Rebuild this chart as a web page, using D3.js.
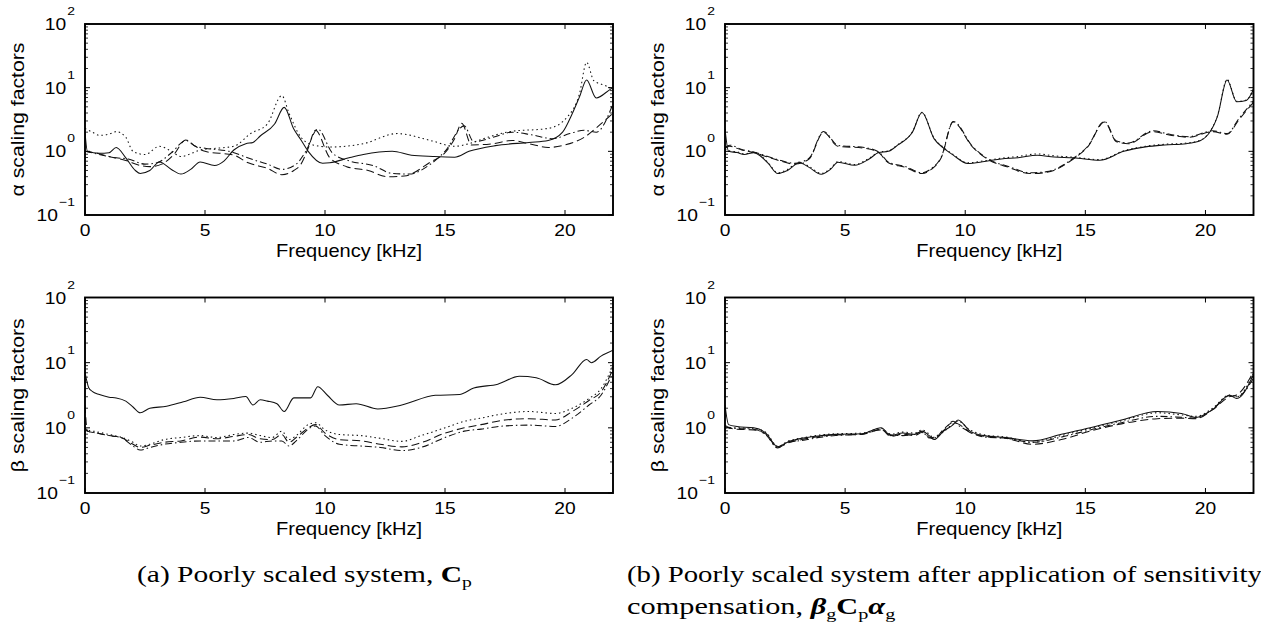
<!DOCTYPE html>
<html><head><meta charset="utf-8">
<script src="https://cdn.jsdelivr.net/npm/d3@7"></script>
<style>body{margin:0;background:#fff} svg{display:block}</style>
</head><body>
<svg id="c" width="1261" height="633"></svg>
<script>
// ---------- data ----------
const xTickValues = [0, 5, 10, 15, 20];
const yTickExponents = [-1, 0, 1, 2];
const xTitle = "Frequency [kHz]";
const alphaLabel = "α scaling factors";
const betaLabel = "β scaling factors";

// (a) alpha
const aAlphaSolidF = [0,0.1,0.6,1.0,1.3,1.7,2.1,2.3,2.7,3.1,3.6,4.0,4.4,4.8,5.4,5.8,6.2,6.7,7.0,7.3,7.9,8.3,8.7,9.0,9.3,9.9,10.2,11.0,11.6,12.8,13.6,14.5,15.4,16.0,17.1,18.5,19.3,19.9,20.3,20.6,20.9,21.3,21.9,22];
const aAlphaSolidV = [2.0,1.0,0.93,0.95,1.15,0.79,0.50,0.45,0.50,0.68,0.52,0.44,0.52,0.68,0.60,0.71,1.05,1.32,1.38,1.74,2.69,4.9,2.24,1.51,1.0,0.65,0.66,0.79,0.89,1.0,0.87,0.83,0.81,1.0,1.23,1.38,1.48,2.0,3.89,7.1,13.2,6.9,9.5,10];
const aAlphaDottedF = [0,0.3,0.6,1.0,1.3,1.7,2.0,2.5,3.1,3.6,4.0,4.5,4.8,5.5,6.2,6.9,7.6,8.2,8.5,9.0,9.5,10.2,11.6,13.0,14.4,15.4,16.0,16.6,17.7,19.3,20.1,20.6,20.9,21.2,21.7,22];
const aAlphaDottedV = [2.29,2.0,1.78,1.86,2.04,1.66,1.0,0.89,1.2,1.0,0.83,0.95,1.05,1.12,1.2,1.9,2.69,7.5,3.98,1.66,1.26,1.17,1.32,1.9,1.48,1.2,1.32,1.58,2.04,2.29,3.47,7.9,25,12.9,10.7,9.3];
const aAlphaDashedF = [0,0.5,1.0,1.7,2.3,2.7,3.2,3.7,4.2,4.6,5.0,6.2,6.8,7.6,8.2,8.7,9.0,9.3,9.6,10.2,10.9,11.8,12.6,13.3,14.4,15.0,15.4,15.7,16.1,17.0,17.8,18.5,19.3,20.0,20.8,21.4,22];
const aAlphaDashedV = [1.0,0.93,0.83,0.72,0.60,0.575,0.63,0.89,1.51,1.2,1.0,0.87,0.66,0.54,0.43,0.5,0.63,1.12,2.14,0.79,0.575,0.5,0.4,0.41,0.68,0.95,1.58,2.75,1.26,1.32,1.48,1.32,1.15,1.26,1.66,2.51,3.98];
const aAlphaDashDotF = [0,0.5,1.3,1.8,2.5,3.0,3.6,4.2,4.6,5.0,6.0,7.0,7.6,8.2,8.8,9.2,9.7,10.3,11.0,12.0,12.8,13.5,14.4,15.0,15.8,16.2,17.0,17.8,18.6,19.5,20.2,20.8,21.3,22];
const aAlphaDashDotV = [1.0,0.91,0.79,0.76,0.63,0.66,0.95,1.48,1.2,1.12,1.0,0.74,0.63,0.52,0.63,1.0,2.24,0.95,0.71,0.60,0.45,0.44,0.63,1.0,2.51,1.41,1.66,2.0,1.82,1.58,1.9,2.14,2.0,5.6];

// (a) beta
const aBetaSolidF = [0,0.15,0.3,0.6,1.0,1.3,1.7,2.0,2.3,2.7,3.4,4.1,4.8,5.5,6.2,6.7,7.0,7.3,7.6,8.0,8.3,8.7,9.4,9.7,10.1,10.6,11.3,12.2,13.2,14.6,15.6,16.2,17.2,18.1,18.8,19.6,20.3,20.9,21.1,21.5,22];
const aBetaSolidV = [7.1,4.17,3.63,3.24,2.95,2.88,2.57,2.09,1.70,2.0,2.14,2.51,2.95,2.69,2.82,3.02,2.24,2.69,2.57,2.34,1.78,2.88,2.88,4.27,3.16,2.24,2.34,1.95,2.24,3.16,3.24,4.07,4.68,6.17,5.89,4.57,6.61,11.2,10.0,12.6,15.5];
const aBetaOtherF = [0,0.1,0.5,1.0,1.5,2.0,2.3,2.7,3.3,4.0,4.8,5.5,6.2,6.8,7.3,7.8,8.2,8.5,8.8,9.3,9.6,10.0,10.6,11.5,12.3,13.2,14.0,15.0,15.8,16.5,17.5,18.5,19.6,20.3,21.0,21.5,22];
const aBetaDashedV = [2.24,0.89,0.83,0.76,0.71,0.56,0.50,0.54,0.60,0.63,0.72,0.68,0.74,0.79,0.68,0.66,0.79,0.60,0.71,1.0,1.12,0.83,0.66,0.63,0.56,0.51,0.59,0.83,1.0,1.12,1.32,1.38,1.32,1.78,2.63,3.55,7.94];
const aBetaDashDotV = [1.0,0.89,0.83,0.76,0.71,0.525,0.457,0.50,0.56,0.60,0.63,0.63,0.63,0.71,0.60,0.63,0.63,0.525,0.63,0.955,1.07,0.76,0.56,0.525,0.50,0.447,0.50,0.71,0.89,0.955,1.07,1.10,1.05,1.41,2.24,3.16,7.08];
const aBetaDottedV = [1.0,0.93,0.87,0.79,0.72,0.60,0.525,0.56,0.66,0.71,0.76,0.71,0.79,0.83,0.76,0.71,0.89,0.66,0.76,1.12,1.20,0.93,0.79,0.76,0.69,0.62,0.76,1.0,1.26,1.41,1.66,1.78,1.66,2.0,2.82,3.98,8.91];

// (b) alpha
const bAlphaSolidF = [0,0.15,0.5,0.8,1.2,1.5,1.8,2.2,2.6,3.1,3.5,4.0,4.4,4.7,5.4,6.0,6.4,6.8,7.2,7.8,8.2,8.7,9.1,9.5,10.1,10.8,11.5,12.2,13.0,13.7,14.5,15.6,16.6,17.5,18.3,19.2,19.8,20.1,20.5,20.9,21.3,21.7,22];
const bAlphaSolidV = [2.24,1.0,0.955,0.89,0.955,0.83,0.646,0.447,0.50,0.66,0.56,0.437,0.525,0.676,0.603,0.759,0.955,1.0,1.26,2.0,4.07,1.585,1.12,0.871,0.646,0.692,0.759,0.794,0.871,0.813,0.794,0.724,1.0,1.175,1.26,1.32,1.48,1.82,3.55,13.2,6.03,6.31,9.33];
const bAlphaDottedV = [1.1,1.02,0.98,0.91,0.97,0.85,0.66,0.46,0.52,0.68,0.58,0.45,0.54,0.69,0.62,0.78,0.97,1.02,1.28,2.02,4.1,1.62,1.15,0.89,0.66,0.71,0.78,0.83,0.91,0.85,0.81,0.74,1.02,1.2,1.29,1.35,1.5,1.85,3.6,13.5,6.1,6.4,9.5];
const bAlphaDashF = [0,0.2,0.7,1.2,1.7,2.2,2.9,3.5,4.1,4.7,5.8,6.4,6.8,7.5,8.2,8.6,9.0,9.5,10.3,11.0,11.8,12.7,13.4,14.5,15.1,15.8,16.3,16.8,17.8,18.6,19.3,20.3,20.9,21.4,22];
const bAlphaDashedV = [1.12,1.2,1.047,0.955,0.832,0.724,0.631,0.759,1.995,1.2,1.122,0.955,0.661,0.562,0.447,0.525,0.794,2.88,1.175,0.724,0.562,0.447,0.468,0.759,1.175,2.88,1.413,1.318,2.04,1.778,1.66,2.04,1.86,3.16,5.9];
const bAlphaDashDotV = [1.15,1.25,1.07,0.98,0.85,0.74,0.65,0.78,2.05,1.24,1.15,0.98,0.68,0.58,0.46,0.54,0.81,2.95,1.2,0.74,0.58,0.46,0.48,0.78,1.2,2.95,1.45,1.35,2.1,1.82,1.7,2.1,1.9,3.3,6.2];

// (b) beta
const bBetaF = [0,0.15,0.5,1.2,1.7,2.2,2.6,3.2,4.0,4.6,5.7,6.5,6.9,7.4,7.9,8.2,8.5,8.7,9.1,9.5,9.7,10.2,10.8,11.7,12.8,14.0,15.2,16.5,18.0,19.0,19.6,20.3,21.0,21.3,22];
const bBetaSolidV = [2.24,1.12,1.047,1.0,0.832,0.513,0.603,0.692,0.759,0.794,0.813,1.0,0.759,0.832,0.794,0.891,0.759,0.661,0.891,1.122,1.318,0.891,0.759,0.708,0.631,0.794,1.0,1.318,1.778,1.66,1.445,1.905,3.162,2.818,6.6];
const bBetaDashedV = [1.05,1.0,0.95,0.93,0.8,0.5,0.58,0.66,0.74,0.78,0.79,0.95,0.74,0.8,0.76,0.85,0.72,0.68,0.95,1.2,1.15,0.85,0.74,0.69,0.56,0.66,0.89,1.15,1.38,1.41,1.38,1.9,3.0,3.2,7.2];
const bBetaDashDotV = [1.1,1.02,0.98,0.95,0.78,0.49,0.6,0.64,0.72,0.76,0.8,0.93,0.78,0.76,0.81,0.87,0.7,0.72,0.91,1.26,1.1,0.87,0.72,0.69,0.6,0.72,0.93,1.2,1.5,1.45,1.41,1.95,3.1,3.0,5.8];
const bBetaDottedV = [1.0,0.98,1.0,0.98,0.85,0.52,0.62,0.7,0.78,0.81,0.83,0.98,0.8,0.86,0.83,0.93,0.8,0.7,0.87,1.15,1.26,0.93,0.78,0.72,0.6,0.76,0.98,1.28,1.7,1.58,1.5,2.0,3.2,3.0,6.9];

// ---------- drawing ----------
const svg = d3.select("#c");
const SANS = "'Liberation Sans', Arial, Helvetica, sans-serif";
const SERIF = "'Liberation Serif', 'Times New Roman', serif";
const DASH = {solid: null, dashed: "8,4", dashdot: "7,3,1.5,3", dotted: "1.5,3"};
const TICK_SX = 1.18;

// stretch a text element horizontally (in its own frame) so that its width equals target
function fitWidth(sel, target) {
  const w = sel.node().getBBox().width;
  return w > 0 ? target / w : 1;
}

const panels = [
  {id:"pa1", x0:85, x1:613, y0:24, y1:215, ylabel:alphaLabel, lx:23.5, series:[
    {f:aAlphaDottedF, v:aAlphaDottedV, s:"dotted"},
    {f:aAlphaDashDotF, v:aAlphaDashDotV, s:"dashdot"},
    {f:aAlphaDashedF, v:aAlphaDashedV, s:"dashed"},
    {f:aAlphaSolidF, v:aAlphaSolidV, s:"solid"}]},
  {id:"pa2", x0:85, x1:613, y0:297.5, y1:493, ylabel:betaLabel, lx:23.5, series:[
    {f:aBetaOtherF, v:aBetaDottedV, s:"dotted"},
    {f:aBetaOtherF, v:aBetaDashDotV, s:"dashdot"},
    {f:aBetaOtherF, v:aBetaDashedV, s:"dashed"},
    {f:aBetaSolidF, v:aBetaSolidV, s:"solid"}]},
  {id:"pb1", x0:725, x1:1253.5, y0:24, y1:215, ylabel:alphaLabel, lx:663.5, series:[
    {f:bAlphaSolidF, v:bAlphaDottedV, s:"dotted"},
    {f:bAlphaDashF, v:bAlphaDashDotV, s:"dashdot"},
    {f:bAlphaDashF, v:bAlphaDashedV, s:"dashed"},
    {f:bAlphaSolidF, v:bAlphaSolidV, s:"solid"}]},
  {id:"pb2", x0:725, x1:1253.5, y0:297.5, y1:493, ylabel:betaLabel, lx:663.5, series:[
    {f:bBetaF, v:bBetaDottedV, s:"dotted"},
    {f:bBetaF, v:bBetaDashDotV, s:"dashdot"},
    {f:bBetaF, v:bBetaDashedV, s:"dashed"},
    {f:bBetaF, v:bBetaSolidV, s:"solid"}]}
];

panels.forEach(p => {
  const x = d3.scaleLinear().domain([0, 22]).range([p.x0, p.x1]);
  const y = d3.scaleLog().domain([0.1, 100]).range([p.y1, p.y0]);
  const g = svg.append("g");

  g.append("clipPath").attr("id", "clip-" + p.id)
    .append("rect").attr("x", p.x0).attr("y", p.y0)
    .attr("width", p.x1 - p.x0).attr("height", p.y1 - p.y0);

  const line = d3.line().x(d => x(d[0])).y(d => y(d[1])).curve(d3.curveMonotoneX);
  const lg = g.append("g").attr("clip-path", "url(#clip-" + p.id + ")");
  p.series.forEach(s => {
    const pts = s.f.map((f, i) => [f, s.v[i]]);
    lg.append("path").attr("d", line(pts))
      .attr("fill", "none").attr("stroke", "#111").attr("stroke-width", 1.05)
      .attr("stroke-dasharray", DASH[s.s]);
  });

  // x ticks (inside, bottom and top) + labels
  xTickValues.forEach(t => {
    g.append("line").attr("x1", x(t)).attr("x2", x(t)).attr("y1", p.y1).attr("y2", p.y1 - 5)
      .attr("stroke", "#000").attr("stroke-width", 1);
    g.append("line").attr("x1", x(t)).attr("x2", x(t)).attr("y1", p.y0).attr("y2", p.y0 + 5)
      .attr("stroke", "#000").attr("stroke-width", 1);
    g.append("text").attr("transform", `translate(${x(t)},${p.y1 + 20.5}) scale(${TICK_SX},1)`)
      .attr("text-anchor", "middle").attr("font-family", SANS).attr("font-size", 16.3)
      .text(t);
  });

  // y ticks (log, major + minor, both sides) + labels
  yTickExponents.forEach(e => {
    const v = Math.pow(10, e);
    [[p.x0, 1], [p.x1, -1]].forEach(([bx, dir]) => {
      g.append("line").attr("x1", bx).attr("x2", bx + dir * 5).attr("y1", y(v)).attr("y2", y(v))
        .attr("stroke", "#000").attr("stroke-width", 1);
      if (e < 2) {
        for (let m = 2; m <= 9; m++) {
          g.append("line").attr("x1", bx).attr("x2", bx + dir * 3).attr("y1", y(m * v)).attr("y2", y(m * v))
            .attr("stroke", "#000").attr("stroke-width", 0.8);
        }
      }
    });
    const tx = g.append("text").attr("transform", `translate(${p.x0 - 10},${y(v) + 6}) scale(${TICK_SX},1)`)
      .attr("text-anchor", "end").attr("font-family", SANS).attr("font-size", 16.3);
    tx.append("tspan").text("10");
    tx.append("tspan").attr("dx", 1).attr("dy", -15).attr("font-size", 11.8)
      .text(e < 0 ? "\u2212" + Math.abs(e) : String(e));
  });

  // box
  g.append("rect").attr("x", p.x0).attr("y", p.y0).attr("width", p.x1 - p.x0).attr("height", p.y1 - p.y0)
    .attr("fill", "none").attr("stroke", "#000").attr("stroke-width", 1.9);

  // x title
  const cx = (p.x0 + p.x1) / 2, ty = p.y1 + 42;
  const xt = g.append("text").attr("text-anchor", "middle").attr("font-family", SANS).attr("font-size", 18)
    .attr("transform", `translate(${cx},${ty})`).text(xTitle);
  xt.attr("transform", `translate(${cx},${ty}) scale(${fitWidth(xt, 146)},1)`);

  // y label
  const cy = (p.y0 + p.y1) / 2;
  const yl = g.append("text").attr("text-anchor", "middle").attr("font-family", SANS).attr("font-size", 18)
    .attr("transform", `translate(${p.lx},${cy}) rotate(-90)`).text(p.ylabel);
  yl.attr("transform", `translate(${p.lx},${cy}) rotate(-90) scale(${fitWidth(yl, 154)},1)`);
});

// captions
function caption(x, y, width, build) {
  const t = svg.append("text").attr("font-family", SERIF).attr("font-size", 22.5)
    .attr("transform", `translate(${x},${y})`);
  build(t);
  t.attr("transform", `translate(${x},${y}) scale(${fitWidth(t, width)},1)`);
}
caption(137, 582, 335, t => {
  t.append("tspan").text("(a) Poorly scaled system, ");
  t.append("tspan").attr("font-weight", "bold").text("C");
  t.append("tspan").attr("dy", 5).attr("font-size", 15).text("p");
});
caption(627, 582, 636, t => {
  t.append("tspan").text("(b) Poorly scaled system after application of sensitivity");
});
caption(627, 614, 269, t => {
  t.append("tspan").text("compensation, ");
  t.append("tspan").attr("font-weight", "bold").attr("font-style", "italic").text("β");
  t.append("tspan").attr("dy", 5).attr("font-size", 15).text("g");
  t.append("tspan").attr("dy", -5).attr("font-weight", "bold").text("C");
  t.append("tspan").attr("dy", 5).attr("font-size", 15).text("p");
  t.append("tspan").attr("dy", -5).attr("font-weight", "bold").attr("font-style", "italic").text("α");
  t.append("tspan").attr("dy", 5).attr("font-size", 15).text("g");
});
</script>
</body></html>
